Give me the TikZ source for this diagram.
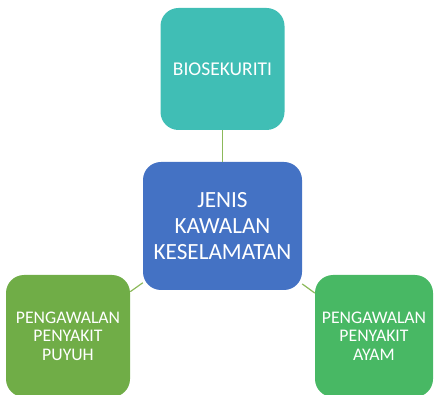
\documentclass[tikz,border=0pt]{standalone}
\usepackage{fontspec}
\setmainfont{Carlito}
\begin{document}
\begin{tikzpicture}[x=1pt,y=-1pt,
  box/.style={draw=none,rounded corners=18pt,text=white,align=center,inner sep=0pt,anchor=center},
  conn/.style={draw={rgb,255:red,140;green,185;blue,90},line width=1.2pt}]
\useasboundingbox (0,0) rectangle (434,395);
\clip (0,0) rectangle (434,395);
\definecolor{teal1}{RGB}{64,190,181}
\definecolor{blue1}{RGB}{68,114,196}
\definecolor{green1}{RGB}{112,173,71}
\definecolor{green2}{RGB}{72,184,100}
\node[box,fill=teal1,minimum width=124pt,minimum height=122pt,font=\fontsize{19.5}{22}\selectfont] (top) at (222.5,69) {BIOSEKURITI};
\node[box,fill=blue1,minimum width=159pt,minimum height=128pt,font=\fontsize{23.2}{26}\selectfont] (mid) at (222.5,226) {JENIS\\KAWALAN\\KESELAMATAN};
\node[box,fill=green1,minimum width=124pt,minimum height=122pt,font=\fontsize{17.7}{18.5}\selectfont] (left) at (68,336) {PENGAWALAN\\PENYAKIT\\PUYUH};
\node[box,fill=green2,minimum width=118pt,minimum height=122pt,font=\fontsize{17.7}{18.5}\selectfont] (right) at (374,336) {PENGAWALAN\\PENYAKIT\\AYAM};
\draw[conn] (top) -- (mid);
\draw[conn] (mid) -- (left);
\draw[conn] (mid) -- (right);
\end{tikzpicture}
\end{document}
